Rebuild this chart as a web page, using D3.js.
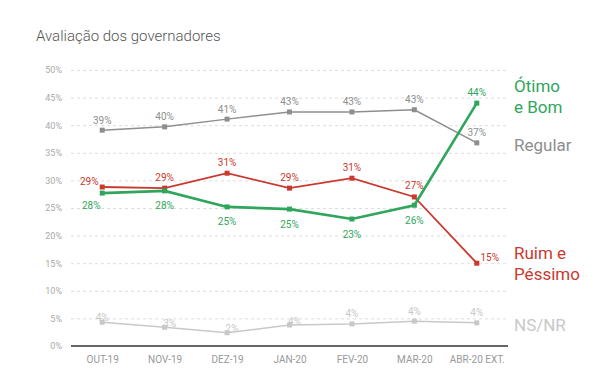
<!DOCTYPE html>
<html><head><meta charset="utf-8">
<script src="https://cdn.jsdelivr.net/npm/d3@7"></script>
<style>body{margin:0;background:#fff}svg{display:block}</style>
</head><body>
<svg id="c" width="600" height="378"></svg>
<script>
const categories = ["OUT-19","NOV-19","DEZ-19","JAN-20","FEV-20","MAR-20","ABR-20 EXT."];
const otimoBom = [27.7, 28.1, 25.2, 24.8, 23.0, 25.5, 44.0];
const regular = [39.1, 39.7, 41.1, 42.4, 42.4, 42.8, 36.8];
const ruimPessimo = [28.8, 28.6, 31.3, 28.6, 30.4, 27.0, 15.0];
const nsnr = [4.3, 3.4, 2.4, 3.8, 4.0, 4.5, 4.2];
const otimoLabels = ["28%","28%","25%","25%","23%","26%","44%"];
const regularLabels = ["39%","40%","41%","43%","43%","43%","37%"];
const ruimLabels = ["29%","29%","31%","29%","31%","27%","15%"];
const nsnrLabels = ["4%","3%","2%","4%","4%","4%","4%"];
const yTicks = [0,5,10,15,20,25,30,35,40,45,50];

const svg = d3.select("#c");
const FONT = "Roboto, 'Noto Sans', sans-serif";
const x = d3.scalePoint().domain(categories).range([71, 508]).padding(0.5);
const y = d3.scaleLinear().domain([0, 50]).range([346, 70]);

svg.append("text").attr("x", 36).attr("y", 41).text("Avaliação dos governadores")
  .attr("font-family", FONT).attr("font-size", 15).attr("fill", "#555").attr("font-weight", 300);

// grid
const yAxis = d3.axisLeft(y).tickValues(yTicks).tickFormat(d => d + "%").tickSize(-(508 - 71));
const gy = svg.append("g").attr("transform", "translate(71,0)").call(yAxis);
gy.select(".domain").remove();
gy.selectAll(".tick line").attr("stroke", "#ddd").attr("stroke-dasharray", "3,3");
gy.selectAll(".tick text").attr("x", -9).attr("fill", "#aaa").attr("font-size", 9).attr("font-family", FONT);

const xAxis = d3.axisBottom(x).tickSize(0);
const gx = svg.append("g").attr("transform", "translate(0,346)").call(xAxis);
gx.select(".domain").attr("stroke", "#666").attr("stroke-width", 2).attr("d", "M71,0H508");
gx.selectAll(".tick text").attr("dy", 0).attr("y", 17).attr("fill", "#999").attr("font-size", 10).attr("font-family", FONT);

const series = [
  {vals: nsnr, labels: nsnrLabels, color: "#c8c8c8", w: 1.5, off: i => i === 0 ? [0,-5] : i <= 3 ? [5,-4] : [0,-10]},
  {vals: regular, labels: regular, color: "#8e8e8e", w: 1.5, off: i => [0,-10]},
  {vals: ruimPessimo, labels: ruimLabels, color: "#c9392e", w: 1.8, off: i => i === 0 ? [-13,-6] : i === 6 ? [13,-6] : [0,-11]},
  {vals: otimoBom, labels: otimoLabels, color: "#2fa65c", w: 2.6, off: i => i === 6 ? [0,-11] : i === 0 ? [-11,12] : [0,15]}
];
series[1].labels = regularLabels;
const line = d3.line().x((d, i) => x(categories[i])).y(d => y(d));

series.forEach(s => {
  const g = svg.append("g");
  g.append("path").datum(s.vals).attr("d", line).attr("fill", "none").attr("stroke", s.color).attr("stroke-width", s.w);
  g.selectAll("rect").data(s.vals).join("rect")
    .attr("x", (d, i) => x(categories[i]) - 2.5).attr("y", d => y(d) - 2.5)
    .attr("width", 5).attr("height", 5).attr("fill", s.color);
  g.selectAll("text").data(s.vals).join("text")
    .attr("x", (d, i) => x(categories[i]) + s.off(i)[0])
    .attr("y", (d, i) => y(d) + s.off(i)[1])
    .attr("dy", "0.35em").attr("text-anchor", "middle")
    .attr("font-family", FONT).attr("font-size", 10).attr("fill", s.color)
    .text((d, i) => s.labels[i]);
});

const legend = [
  {lines: ["Ótimo", "e Bom"], color: "#2fa65c", y: 86},
  {lines: ["Regular"], color: "#8e8e8e", y: 145},
  {lines: ["Ruim e", "Péssimo"], color: "#c9392e", y: 253},
  {lines: ["NS/NR"], color: "#c8c8c8", y: 325}
];
legend.forEach(l => {
  l.lines.forEach((t, k) => {
    svg.append("text").attr("x", 514).attr("y", l.y + k * 21).attr("dy", "0.35em")
      .attr("font-family", FONT).attr("font-size", 17).attr("fill", l.color).text(t);
  });
});
</script>
</body></html>
